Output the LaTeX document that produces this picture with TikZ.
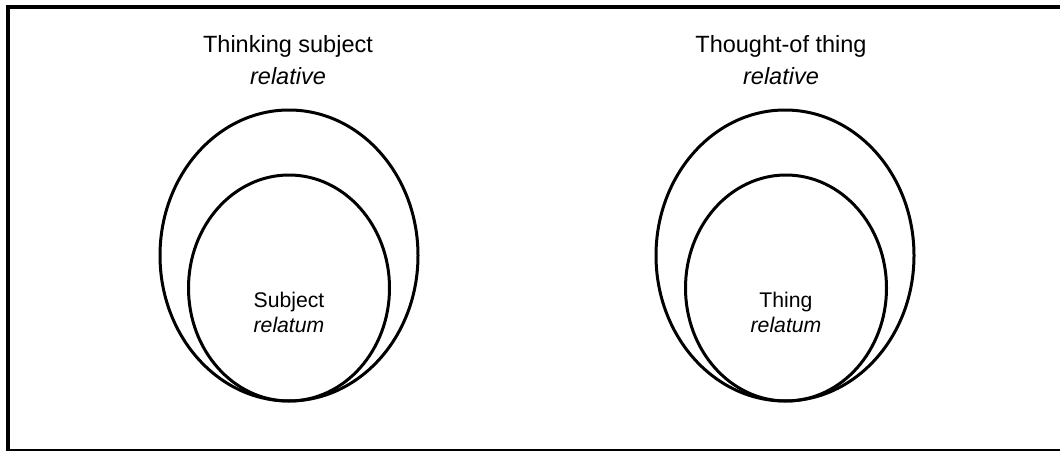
\documentclass[tikz,border=0pt]{standalone}
\usepackage{fontspec}
\setmainfont{Liberation Sans}
\usepackage{xcolor}

\begin{document}
\begin{tikzpicture}[x=1pt, y=-1pt,
  headlabel/.style={anchor=base, font={\fontsize{23.5}{23.5}\selectfont}},
  innerlabel/.style={anchor=base, font={\fontsize{21.2}{21.2}\selectfont}},
  ring/.style={line width=3pt, black}]
\useasboundingbox (0,0) rectangle (1060,450);
% frame, cut off at right and bottom
\draw[line width=4pt, black] (1062,7) -- (8,7) -- (8,452);
\draw[line width=3pt, black] (6,450) -- (1062,450);
% left pair
\draw[ring] (289,255.5) ellipse [x radius=129pt, y radius=145.5pt];
\draw[ring] (289,288) ellipse [x radius=100.5pt, y radius=113pt];
\node[headlabel] (tsubj) at (288,52) {Thinking subject};
\node[headlabel] (tsubjrel) at (288,84) {\itshape relative};
\node[innerlabel] (subj) at (289,307) {Subject};
\node[innerlabel] (subjrel) at (289,332) {\itshape relatum};
% right pair
\draw[ring] (785,255.5) ellipse [x radius=129pt, y radius=145.5pt];
\draw[ring] (786,288) ellipse [x radius=100.5pt, y radius=113pt];
\node[headlabel] (tthing) at (781,52) {Thought-of thing};
\node[headlabel] (tthingrel) at (781,84) {\itshape relative};
\node[innerlabel] (thing) at (786,307) {Thing};
\node[innerlabel] (thingrel) at (786,332) {\itshape relatum};
\end{tikzpicture}
\end{document}
